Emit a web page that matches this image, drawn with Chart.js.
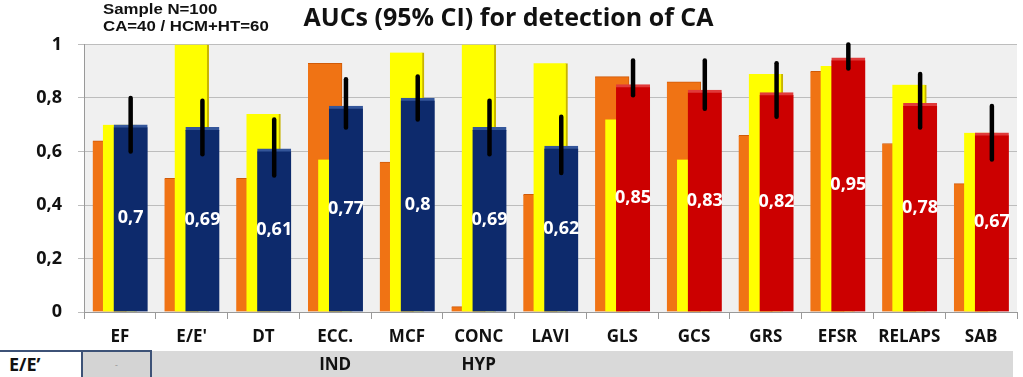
<!DOCTYPE html>
<html>
<head>
<meta charset="utf-8">
<script src="https://cdn.jsdelivr.net/npm/chart.js@4.4.0/dist/chart.umd.min.js"></script>
<style>
  html, body { margin: 0; padding: 0; background: #fff; }
  #wrap { position: relative; width: 1023px; height: 377px; overflow: hidden; }
  #band { position: absolute; left: 152px; top: 351px; width: 861px; height: 26px; background: #d9d9d9; }
  #cellHead { position: absolute; left: 0; top: 350px; width: 81px; height: 27px; border-top: 2px solid #3d5277;
              font: bold 18px "Open Sans", sans-serif; color: #111; box-sizing: border-box; padding: 0 0 0 9px; line-height: 25px; }
  #cellVal { position: absolute; left: 81px; top: 350px; width: 71px; height: 27px; background: #d4d4d4;
             border-top: 2px solid #3d5277; border-left: 2px solid #3d5277; border-right: 2px solid #3d5277;
             box-sizing: border-box; font: 9px Lato, sans-serif; color: #999; text-align: center; padding-top: 7px; }
  #note { position: absolute; left: 103px; top: 1px; font: bold 14px "Liberation Sans", Arial, sans-serif;
          line-height: 17px; color: #111; transform: scaleX(1.2); transform-origin: left top; }
  canvas { position: absolute; left: 0; top: 0; }
</style>
</head>
<body>
<div id="wrap">
  <div id="band"></div>
  <div id="cellHead">E/E’</div>
  <div id="cellVal">-</div>
  <canvas id="auc" width="1023" height="377"></canvas>
  <div id="note">Sample N=100<br>CA=40 / HCM+HT=60</div>
</div>
<script>
// categories and AUC values
const categories = [['EF'], ["E/E'"], ['DT'], ['ECC.', 'IND'], ['MCF'], ['CONC', 'HYP'], ['LAVI'],
                    ['GLS'], ['GCS'], ['GRS'], ['EFSR'], ['RELAPS'], ['SAB']];
const orangeAuc = [0.64, 0.50, 0.50, 0.93, 0.56, 0.02, 0.44, 0.88, 0.86, 0.66, 0.90, 0.63, 0.48];
const yellowAuc = [0.70, 1.00, 0.74, 0.57, 0.97, 1.00, 0.93, 0.72, 0.57, 0.89, 0.92, 0.85, 0.67];
const mainAuc   = [0.70, 0.69, 0.61, 0.77, 0.80, 0.69, 0.62, 0.85, 0.83, 0.82, 0.95, 0.78, 0.67];
const ciLow     = [0.60, 0.59, 0.51, 0.69, 0.72, 0.59, 0.52, 0.81, 0.76, 0.73, 0.91, 0.69, 0.57];
const ciHigh    = [0.80, 0.79, 0.72, 0.87, 0.88, 0.79, 0.73, 0.94, 0.94, 0.93, 1.00, 0.89, 0.77];
const yTicks = [0, 0.2, 0.4, 0.6, 0.8, 1];

const BLUE = '#0d2a6c', RED = '#cc0000';
const firstStrain = 7; // from GLS on the bars are red
const fmt = v => String(+v.toFixed(2)).replace('.', ',');
const toPoints = (arr, shift) => arr.map((v, i) => ({ x: i + shift, y: v }));

const plotBg = {
  id: 'plotBg',
  beforeDraw(chart) {
    const { ctx, chartArea: a } = chart;
    ctx.save();
    ctx.fillStyle = '#f0f0f0';
    ctx.fillRect(a.left, a.top, a.right - a.left, a.bottom - a.top);
    ctx.restore();
  }
};

const ciBars = {
  id: 'ciBars',
  afterDatasetsDraw(chart) {
    const { ctx } = chart;
    const y = chart.scales.y;
    const meta = chart.getDatasetMeta(0);
    ctx.save();
    meta.data.forEach((bar, i) => {
      // error bar
      ctx.strokeStyle = '#000';
      ctx.lineWidth = 4.5;
      ctx.lineCap = 'round';
      ctx.beginPath();
      ctx.moveTo(bar.x, y.getPixelForValue(ciLow[i]));
      ctx.lineTo(bar.x, y.getPixelForValue(ciHigh[i]));
      ctx.stroke();
      // value in the middle of the bar
      ctx.fillStyle = '#fff';
      ctx.font = 'bold 18px "Open Sans", sans-serif';
      ctx.textAlign = 'center';
      ctx.textBaseline = 'middle';
      ctx.fillText(fmt(mainAuc[i]), bar.x, (bar.y + bar.base) / 2);
    });
    ctx.restore();
  }
};

new Chart(document.getElementById('auc'), {
  type: 'bar',
  data: {
    labels: categories,
    datasets: [
      {
        data: toPoints(mainAuc, 0.15),
        xAxisID: 'xv',
        backgroundColor: c => c.dataIndex < firstStrain ? BLUE : RED,
        borderColor: c => c.dataIndex < firstStrain ? '#34569a' : '#e03a3a',
        borderWidth: { top: 3, left: 0, right: 0, bottom: 0 },
        borderSkipped: false
      },
      {
        data: toPoints(yellowAuc, 0),
        xAxisID: 'xv',
        backgroundColor: '#ffff00',
        borderColor: '#c8b400',
        borderWidth: { top: 0, left: 0, right: 2, bottom: 0 },
        borderSkipped: false
      },
      {
        data: toPoints(orangeAuc, -0.142),
        xAxisID: 'xv',
        backgroundColor: '#f07314',
        borderColor: '#d05a08',
        borderWidth: { top: 1, left: 0, right: 1, bottom: 0 },
        borderSkipped: false
      }
    ]
  },
  options: {
    responsive: false,
    animation: false,
    layout: { padding: { right: 6, left: 0, top: 0, bottom: 0 } },
    datasets: { bar: { grouped: false, barThickness: 34 } },
    scales: {
      x: {
        type: 'category',
        offset: true,
        grid: { offset: true, drawOnChartArea: false, tickLength: 7, color: '#999' },
        border: { color: '#999' },
        ticks: { color: '#111', padding: 5, font: { family: 'Open Sans', size: 17, weight: 'bold', lineHeight: 1.6 } },
        afterFit: s => { s.height = 65; }
      },
      xv: { type: 'linear', display: false, offset: false, min: -0.5, max: 12.5 },
      y: {
        min: 0, max: 1,
        afterBuildTicks: s => { s.ticks = yTicks.map(v => ({ value: v })); },
        grid: { color: '#bdbdbd', tickLength: 6 },
        border: { color: '#999' },
        ticks: { color: '#111', padding: 16, callback: v => fmt(v), font: { family: 'Open Sans', size: 18, weight: 'bold' } },
        afterFit: s => { s.width = 84; }
      }
    },
    plugins: {
      legend: { display: false },
      tooltip: { enabled: false },
      title: {
        display: true,
        text: 'AUCs (95% CI) for detection of CA',
        color: '#111',
        font: { family: 'Open Sans', size: 25, weight: 'bold' },
        padding: { top: 4, bottom: 10.5 }
      }
    }
  },
  plugins: [plotBg, ciBars]
});
</script>
</body>
</html>
